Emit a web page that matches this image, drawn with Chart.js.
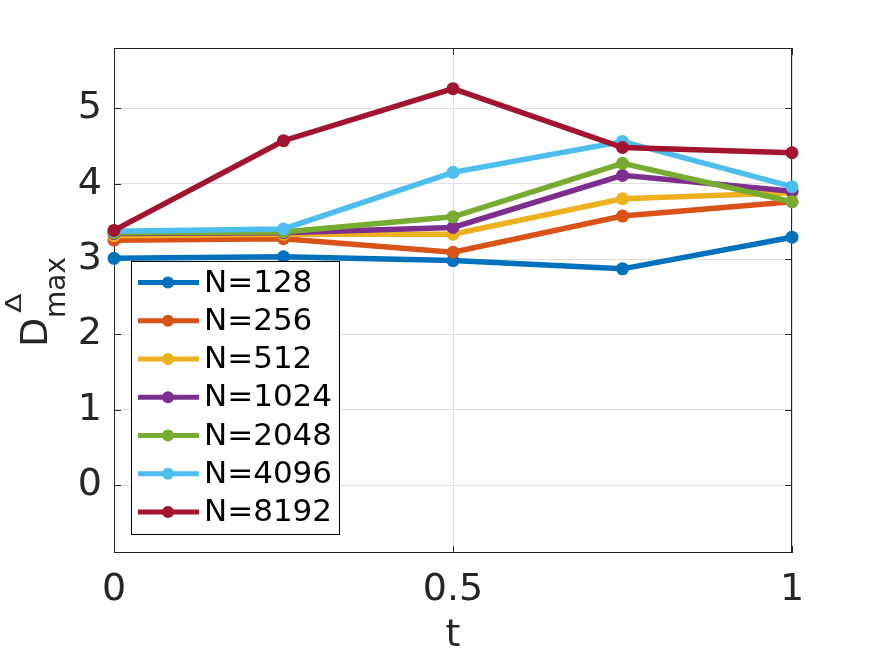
<!DOCTYPE html>
<html>
<head>
<meta charset="utf-8">
<script src="https://cdn.jsdelivr.net/npm/chart.js@4/dist/chart.umd.min.js"></script>
<style>
  html, body { margin: 0; padding: 0; background: #fff; }
  #wrap { width: 875px; height: 656px; }
</style>
</head>
<body>
<div id="wrap"><canvas id="chart" width="875" height="656"></canvas></div>
<script>
const tValues = [0, 0.25, 0.5, 0.75, 1];
const xTicks = [0, 0.5, 1];
const xTickLabels = ['0', '0.5', '1'];
const yTicks = [0, 1, 2, 3, 4, 5];
const yTickLabels = ['0', '1', '2', '3', '4', '5'];

const seriesNames = ['N=128', 'N=256', 'N=512', 'N=1024', 'N=2048', 'N=4096', 'N=8192'];
const seriesColors = ['#0072BD', '#D95319', '#EDB120', '#7E2F8E', '#77AC30', '#4DBEEE', '#A2142F'];

const n128 = [3.01, 3.03, 2.98, 2.87, 3.29];
const n256 = [3.25, 3.27, 3.09, 3.57, 3.76];
const n512 = [3.31, 3.33, 3.33, 3.80, 3.88];
const n1024 = [3.34, 3.35, 3.42, 4.11, 3.90];
const n2048 = [3.35, 3.36, 3.56, 4.27, 3.76];
const n4096 = [3.37, 3.40, 4.15, 4.56, 3.96];
const n8192 = [3.38, 4.57, 5.26, 4.48, 4.41];

const seriesValues = [n128, n256, n512, n1024, n2048, n4096, n8192];

const axisColor = '#262626';
const gridColor = '#dfdfdf';
const FONT = '"DejaVu Sans", sans-serif';

const datasets = seriesValues.map((vals, i) => ({
  label: seriesNames[i],
  data: vals.map((v, j) => ({ x: tValues[j], y: v })),
  borderColor: seriesColors[i],
  backgroundColor: seriesColors[i],
  borderWidth: 5.5,
  pointRadius: 6.5,
  pointBorderWidth: 0,
  pointBackgroundColor: seriesColors[i],
  tension: 0,
  clip: false,
  order: seriesValues.length - i,
}));

// box + inward ticks, under the data like matlab
const boxPlugin = {
  id: 'boxPlugin',
  beforeDatasetsDraw(chart) {
    const { ctx, chartArea: a, scales } = chart;
    ctx.save();
    ctx.strokeStyle = axisColor;
    ctx.lineWidth = 1;
    ctx.strokeRect(a.left + 0.5, a.top + 0.5, a.right - a.left - 1, a.bottom - a.top - 1);
    ctx.beginPath();
    yTicks.forEach((v) => {
      const y = Math.round(scales.y.getPixelForValue(v)) + 0.5;
      ctx.moveTo(a.left, y); ctx.lineTo(a.left + 7, y);
      ctx.moveTo(a.right, y); ctx.lineTo(a.right - 7, y);
    });
    xTicks.forEach((v) => {
      const x = Math.round(scales.x.getPixelForValue(v)) + 0.5;
      ctx.moveTo(x, a.bottom); ctx.lineTo(x, a.bottom - 7);
      ctx.moveTo(x, a.top); ctx.lineTo(x, a.top + 7);
    });
    ctx.stroke();
    ctx.restore();
  },
};

// legend box inside the axes + y label with sub/superscript
const overlayPlugin = {
  id: 'overlayPlugin',
  afterDraw(chart) {
    const { ctx } = chart;
    ctx.save();

    const lx = 131.5, ly = 261.5, lw = 208, lh = 273;
    ctx.fillStyle = '#fff';
    ctx.fillRect(lx, ly, lw, lh);
    ctx.strokeStyle = '#000';
    ctx.lineWidth = 1;
    ctx.strokeRect(lx, ly, lw, lh);

    ctx.font = '31px ' + FONT;
    ctx.textBaseline = 'middle';
    ctx.textAlign = 'left';
    seriesNames.forEach((name, i) => {
      const y = 282.5 + i * 38.25;
      ctx.strokeStyle = seriesColors[i];
      ctx.lineWidth = 5;
      ctx.beginPath();
      ctx.moveTo(138, y); ctx.lineTo(199, y);
      ctx.stroke();
      ctx.fillStyle = seriesColors[i];
      ctx.beginPath();
      ctx.arc(168, y, 6, 0, Math.PI * 2);
      ctx.fill();
      ctx.fillStyle = '#000';
      ctx.fillText(name, 204, y + 1);
    });

    ctx.translate(47, 347);
    ctx.rotate(-Math.PI / 2);
    ctx.fillStyle = axisColor;
    ctx.textBaseline = 'alphabetic';
    ctx.font = '38px ' + FONT;
    ctx.fillText('D', 0, 0);
    ctx.font = '28px ' + FONT;
    ctx.fillText('max', 29, 18);
    ctx.translate(34, -26);
    ctx.scale(1.3, 1);
    ctx.font = '22px ' + FONT;
    ctx.fillText('Δ', 0, 0);
    ctx.restore();
  },
};

new Chart(document.getElementById('chart').getContext('2d'), {
  type: 'line',
  data: { datasets },
  options: {
    responsive: false,
    animation: false,
    layout: { padding: { top: 48, right: 83, left: 0, bottom: 0 } },
    plugins: {
      legend: { display: false },
      tooltip: { enabled: false },
    },
    scales: {
      x: {
        type: 'linear',
        min: 0,
        max: 1,
        afterBuildTicks: (axis) => { axis.ticks = xTicks.map((v) => ({ value: v })); },
        afterFit: (scale) => { scale.height = 103; },
        grid: { color: gridColor, drawTicks: false },
        border: { display: false },
        ticks: {
          color: axisColor,
          font: { family: FONT, size: 38 },
          padding: 14,
          maxRotation: 0,
          callback: (v, i) => xTickLabels[i],
        },
        title: {
          display: true,
          text: 't',
          color: axisColor,
          font: { family: FONT, size: 38 },
          padding: { top: 0, bottom: -3 },
        },
      },
      y: {
        type: 'linear',
        min: -0.9,
        max: 5.8,
        afterBuildTicks: (axis) => { axis.ticks = yTicks.map((v) => ({ value: v })); },
        afterFit: (scale) => { scale.width = 114; },
        grid: { color: gridColor, drawTicks: false },
        border: { display: false },
        ticks: {
          color: axisColor,
          font: { family: FONT, size: 38 },
          padding: 12,
          callback: (v, i) => yTickLabels[i],
        },
      },
    },
  },
  plugins: [boxPlugin, overlayPlugin],
});
</script>
</body>
</html>
